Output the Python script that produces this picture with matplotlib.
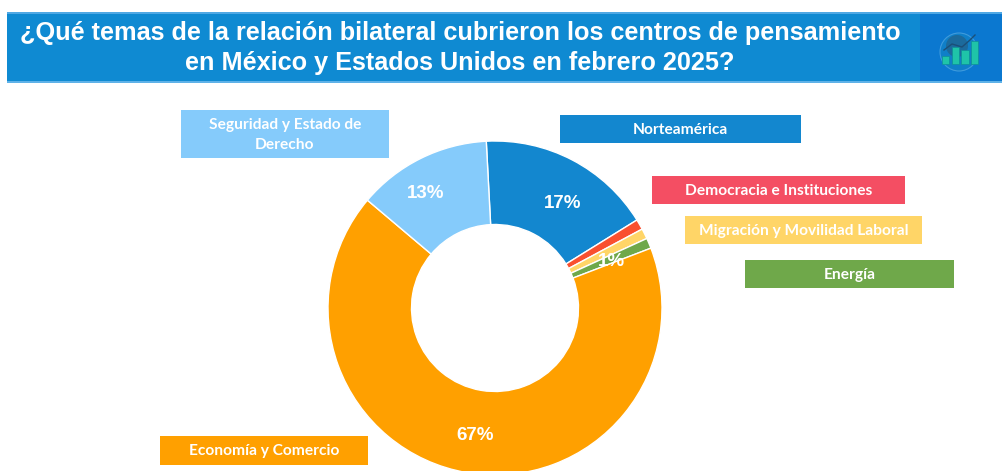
import matplotlib
matplotlib.use("Agg")
import matplotlib.pyplot as plt
from matplotlib.patches import Rectangle, Circle

W, H = 1002, 471

# data
temas = ["Norteamérica", "Democracia e Instituciones", "Migración y Movilidad Laboral",
         "Energía", "Economía y Comercio", "Seguridad y Estado de\nDerecho"]
valores = [17, 1, 1, 1, 67, 13]
colores = ["#1387CF", "#F44E63", "#FFD567", "#6FA84A", "#FFA000", "#85CBFB"]
colores_rebanada = ["#1387CF", "#F9502F", "#FFD567", "#6FA84A", "#FFA000", "#85CBFB"]
titulo = "¿Qué temas de la relación bilateral cubrieron los centros de pensamiento\nen México y Estados Unidos en febrero 2025?"
icono_barras = [0.35, 0.7, 0.58, 0.95]

fig = plt.figure(figsize=(W / 100, H / 100), dpi=100, facecolor="white")

# donut, placed by pixel box (runs a little past the bottom edge)
cx, cy, r = 495, 308, 167
ax = fig.add_axes([(cx - r) / W, 1 - (cy + r) / H, 2 * r / W, 2 * r / H])
ax.pie(valores, colors=colores_rebanada, startangle=93, counterclock=False, radius=1,
       wedgeprops=dict(width=0.5, edgecolor="white", linewidth=1.0))
ax.set_xlim(-1, 1)
ax.set_ylim(-1, 1)
ax.set_aspect("equal")
ax.axis("off")

# overlay in pixel coordinates for banner, boxes and labels
ov = fig.add_axes([0, 0, 1, 1], facecolor="none")
ov.set_xlim(0, W)
ov.set_ylim(H, 0)
ov.axis("off")

# banner
ov.add_patch(Rectangle((7, 12), 995, 70, color="#0F8AD2", lw=0))
ov.add_patch(Rectangle((920, 12), 82, 70, color="#0B78D0", lw=0))
ov.add_patch(Rectangle((7, 12), 995, 1.5, color="#4FA8E4", lw=0))
ov.add_patch(Rectangle((7, 81), 995, 1.5, color="#5FB2E8", lw=0))
ov.text(460, 48, titulo, color="white", fontsize=18.15, fontweight="bold",
        family="Liberation Sans", ha="center", va="center", linespacing=1.3)

# icon
ov.add_patch(Circle((959, 52), 19, fc="#0F7FC8", ec="#3F9BDC", lw=0.8))
ov.add_patch(Circle((957, 46), 11, fc="#1C6A9C", lw=0))
for i, h in enumerate(icono_barras):
    ov.add_patch(Rectangle((942 + i * 9.6, 64 - h * 24), 7.5, h * 24, fc="#1FC4A8", ec="#0E8F96", lw=0.5))
ov.plot([944, 952, 962, 970, 975], [50, 44, 47, 40, 35], color="#1B4F78", lw=1)

# label boxes
cajas = [(560, 115, 241, 28), (652, 176, 253, 28), (685, 216, 237, 28),
         (745, 260, 209, 28), (160, 436, 208, 29), (181, 110, 208, 48)]
for tema, color, (x, y, w, h) in zip(temas, colores, cajas):
    ov.add_patch(Rectangle((x, y), w, h, color=color, lw=0))
    ov.text(x + w / 2, y + h / 2 + 1, tema, color="white", fontsize=11.2, fontweight="bold",
            family="Lato", ha="center", va="center", linespacing=1.55)

# percent labels
pct_textos = ["17%", "1%", "67%", "13%"]
pct_pos = [(563, 204), (611, 262), (475, 436), (426, 194)]
for t, (x, y) in zip(pct_textos, pct_pos):
    ov.text(x, y, t, color="white", fontsize=13.5, fontweight="bold",
            family="Liberation Sans", ha="center", va="center")

fig.savefig("out.png", dpi=100)
